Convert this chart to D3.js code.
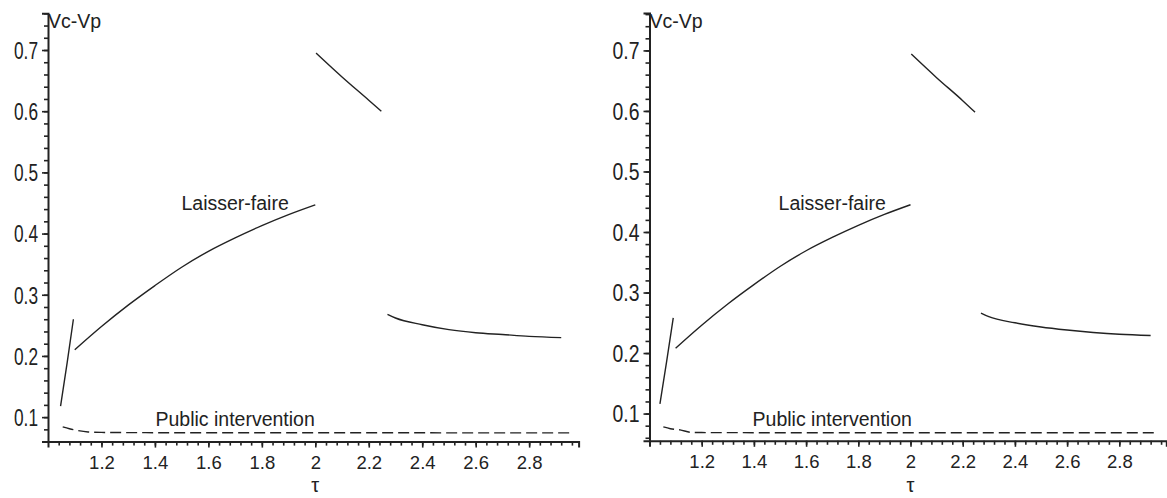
<!DOCTYPE html>
<html>
<head>
<meta charset="utf-8">
<script src="https://cdn.jsdelivr.net/npm/d3@7"></script>
<style>
  html, body { margin: 0; padding: 0; background: #fff; }
  svg { display: block; }
  text { font-family: "Liberation Sans", Arial, sans-serif; fill: #222; }
</style>
</head>
<body>
<svg id="chart" width="1167" height="498"></svg>
<script>
// ---- tick labels ----
const tauTicks = [1.2, 1.4, 1.6, 1.8, 2.0, 2.2, 2.4, 2.6, 2.8];
const vTicks = [0.1, 0.2, 0.3, 0.4, 0.5, 0.6, 0.7];
const xLabel = "τ";
const yLabel = "Vc-Vp";
const labelLaisser = "Laisser-faire";
const labelPublic = "Public intervention";

// ---- panel A (left) series: [tau, Vc-Vp] ----
const aJump = [[1.047, 0.118], [1.072, 0.190], [1.095, 0.260]];
const aLaisser = [[1.10, 0.210], [1.20, 0.248], [1.30, 0.283], [1.40, 0.315], [1.50, 0.345],
                  [1.60, 0.371], [1.70, 0.393], [1.80, 0.413], [1.90, 0.431], [2.00, 0.447]];
const aUpper = [[2.003, 0.695], [2.10, 0.656], [2.20, 0.618], [2.247, 0.600]];
const aLower = [[2.27, 0.268], [2.30, 0.262], [2.40, 0.251], [2.50, 0.243], [2.60, 0.238],
                [2.70, 0.235], [2.80, 0.232], [2.92, 0.230]];
const aPublic = [[1.055, 0.084], [1.08, 0.081], [1.10, 0.079], [1.15, 0.0757], [1.20, 0.0750],
                 [1.50, 0.0745], [2.00, 0.0744], [2.95, 0.0743]];

// ---- panel B (right) series ----
const bJump = [[1.040, 0.116], [1.066, 0.187], [1.091, 0.258]];
const bLaisser = [[1.10, 0.208], [1.20, 0.246], [1.30, 0.281], [1.40, 0.313], [1.50, 0.343],
                  [1.60, 0.369], [1.70, 0.391], [1.80, 0.411], [1.90, 0.429], [2.00, 0.445]];
const bUpper = [[2.003, 0.694], [2.10, 0.655], [2.20, 0.617], [2.247, 0.598]];
const bLower = [[2.27, 0.266], [2.30, 0.260], [2.40, 0.250], [2.50, 0.243], [2.60, 0.238],
                [2.70, 0.234], [2.80, 0.231], [2.92, 0.229]];
const bPublic = [[1.053, 0.078], [1.08, 0.075], [1.117, 0.073], [1.16, 0.0690], [1.20, 0.0686],
                 [1.50, 0.0684], [2.00, 0.0684], [2.94, 0.0684]];

const svg = d3.select("#chart");

function minorVals(lo, hi, step) {
  const out = [];
  for (let i = Math.ceil(lo / step - 1e-9); i * step <= hi + 1e-9; i++) out.push(+(i * step).toFixed(4));
  return out;
}

function panel(cfg, series) {
  const x = d3.scaleLinear().domain(cfg.xDomain).range(cfg.xRange);
  const y = d3.scaleLinear().domain(cfg.yDomain).range(cfg.yRange);
  const g = svg.append("g");
  const x0 = x(cfg.xDomain[0]), y0 = y(cfg.yDomain[0]);

  // minor x ticks
  g.append("g").attr("transform", `translate(0,${y0})`)
    .call(d3.axisBottom(x).tickValues(minorVals(1.04, cfg.xDomain[1], 0.04)).tickSize(4).tickFormat(""))
    .call(s => s.select(".domain").remove());
  // major x ticks
  const gx = g.append("g").attr("transform", `translate(0,${y0})`)
    .call(d3.axisBottom(x).tickValues(tauTicks).tickSize(6).tickPadding(8)
      .tickFormat(d => String(+d.toFixed(1))));
  gx.selectAll("text").attr("font-size", 18.5).attr("font-family", "Liberation Sans, Arial, sans-serif").attr("fill", "#222");

  // minor y ticks
  g.append("g").attr("transform", `translate(${x0},0)`)
    .call(d3.axisLeft(y).tickValues(minorVals(cfg.yDomain[0], cfg.yDomain[1], 0.02)).tickSize(4).tickFormat(""))
    .call(s => s.select(".domain").remove());
  const gy = g.append("g").attr("transform", `translate(${x0},0)`)
    .call(d3.axisLeft(y).tickValues(vTicks).tickSize(6).tickPadding(4).tickFormat(d3.format(".1f")));
  gy.selectAll("text").attr("font-size", 23).attr("dy", "0.36em")
    .attr("textLength", cfg.yLabW).attr("lengthAdjust", "spacingAndGlyphs")
    .attr("font-family", "Liberation Sans, Arial, sans-serif").attr("fill", "#222");

  [gx, gy].forEach(a => {
    a.select(".domain").attr("stroke", "#222").attr("stroke-width", 2);
  });
  g.selectAll(".tick line").attr("stroke", "#222").attr("stroke-width", 1.6);

  // axis titles
  g.append("text").attr("x", x0).attr("y", 28).attr("font-size", 19.5).text(yLabel);
  g.append("text").attr("x", x(2.0)).attr("y", 492).attr("text-anchor", "middle")
    .attr("font-size", 20).attr("font-family", "Liberation Serif, serif").text(xLabel);

  const line = d3.line().x(d => x(d[0])).y(d => y(d[1])).curve(d3.curveMonotoneX);
  const lineL = d3.line().x(d => x(d[0])).y(d => y(d[1]));
  g.append("path").attr("d", lineL(series.jump)).attr("fill", "none")
    .attr("stroke", "#222").attr("stroke-width", 1.4);
  [series.laisser, series.upper, series.lower].forEach(s => g.append("path").attr("d", line(s))
    .attr("fill", "none").attr("stroke", "#222").attr("stroke-width", 1.4));
  g.append("path").attr("d", line(series.pub)).attr("fill", "none")
    .attr("stroke", "#222").attr("stroke-width", 1.4).attr("stroke-dasharray", "11,5");

  // curve labels
  g.append("text").attr("x", x(1.70)).attr("y", y(cfg.laisserY)).attr("text-anchor", "middle")
    .attr("font-size", 19.5).text(labelLaisser);
  g.append("text").attr("x", x(1.70)).attr("y", y(cfg.publicY)).attr("text-anchor", "middle")
    .attr("font-size", 19.5).text(labelPublic);
}

panel({ xDomain: [1, 2.985], xRange: [48, 578.6], yDomain: [0.06, 0.76], yRange: [441.6, 13.3],
        yLabW: 24, laisserY: 0.438, publicY: 0.085 },
      { jump: aJump, laisser: aLaisser, upper: aUpper, lower: aLower, pub: aPublic });
panel({ xDomain: [1, 2.98], xRange: [649.5, 1166.3], yDomain: [0.055, 0.762], yRange: [440.8, 12.9],
        yLabW: 27, laisserY: 0.436, publicY: 0.079 },
      { jump: bJump, laisser: bLaisser, upper: bUpper, lower: bLower, pub: bPublic });
</script>
</body>
</html>
